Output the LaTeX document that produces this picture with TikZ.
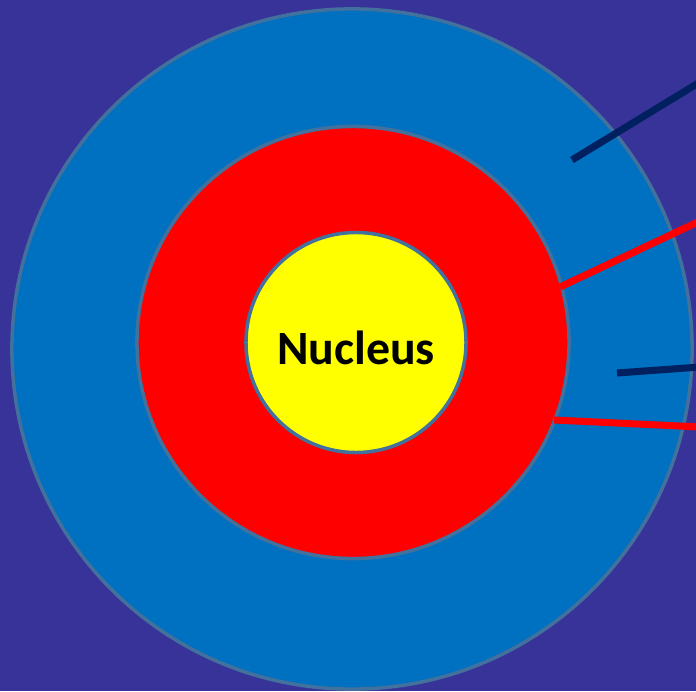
\documentclass[tikz,border=0pt]{standalone}
\usepackage{fontspec}
\setmainfont{Carlito}
\usepackage{xcolor}
\usepackage{tikz}
\usetikzlibrary{positioning,calc}
\definecolor{bgpurple}{HTML}{383399}
\definecolor{shellblue}{HTML}{0070C0}
\definecolor{shellred}{HTML}{FF0000}
\definecolor{coreyellow}{HTML}{FFFF00}
\definecolor{rimgrey}{HTML}{41719C}
\definecolor{pointernavy}{HTML}{002060}

\begin{document}
\begin{tikzpicture}[x=0.025cm, y=-0.025cm,
  shell/.style={circle, draw=rimgrey, line width=2.5pt, inner sep=0pt},
  ptr/.style={line width=5pt}
]
  \fill[bgpurple] (0,0) rectangle (696,691);
  \useasboundingbox (0,0) rectangle (696,691);

  \node[shell, fill=shellblue, minimum size=17cm] (outer) at (352,349) {};
  \node[shell, fill=shellred, minimum size=10.8cm] (middle) at (353,342.5) {};
  \node[shell, fill=coreyellow, minimum size=5.5cm] (nucleus) at (356,342.5) {};
  \node[font=\fontsize{34}{38}\selectfont\bfseries, inner sep=0pt] (nucleuslabel) at ($(nucleus.center)+(0,5)$) {Nucleus};

  \coordinate (navyA) at (572,160);
  \coordinate (navyAend) at (700,82);
  \coordinate (redA) at (560,287);
  \coordinate (redAend) at (700,221);
  \coordinate (navyB) at (617,373);
  \coordinate (navyBend) at (700,367);
  \coordinate (redB) at (554,420);
  \coordinate (redBend) at (700,427);

  \draw[ptr, pointernavy] (navyA) -- (navyAend);
  \draw[ptr, shellred] (redA) -- (redAend);
  \draw[ptr, pointernavy] (navyB) -- (navyBend);
  \draw[ptr, shellred] (redB) -- (redBend);
\end{tikzpicture}
\end{document}
